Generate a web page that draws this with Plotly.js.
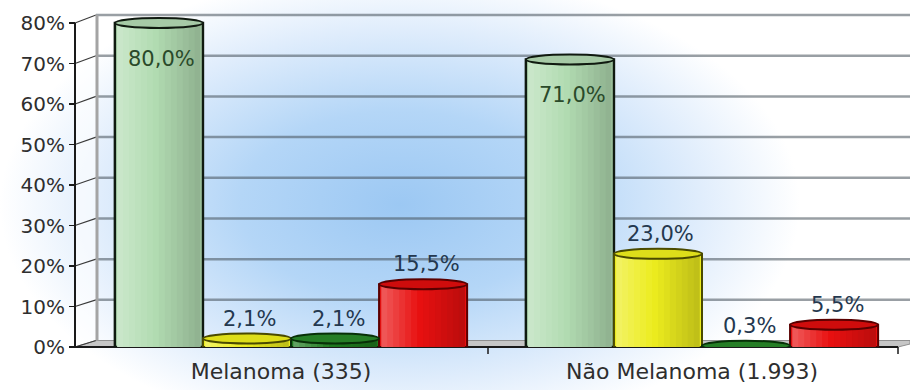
<!DOCTYPE html>
<html><head><meta charset="utf-8">
<script src="https://cdn.plot.ly/plotly-3.0.1.min.js"></script>
<style>html,body{margin:0;padding:0;background:#fff}#chart{width:910px;height:390px}</style>
</head><body><div id="chart"></div>
<script>
// ---- data ----
const categories = ['Melanoma (335)', 'Não Melanoma (1.993)'];
const seriesLightGreen = [80.0, 71.0];
const seriesYellow = [2.1, 23.0];
const seriesDarkGreen = [2.1, 0.3];
const seriesRed = [15.5, 5.5];
const yTickValues = [0, 10, 20, 30, 40, 50, 60, 70, 80];
const yTickLabels = ['0%', '10%', '20%', '30%', '40%', '50%', '60%', '70%', '80%'];

// ---- styles ----
const seriesList = [
  {values: seriesLightGreen, fill: [178, 220, 178], line: '#101a10', top: '#a6caa6', label: '#2a4a2a', lw: 2.5},
  {values: seriesYellow, fill: [236, 236, 30], line: '#4a4a00', top: '#dede1a', label: '#24384f', lw: 2},
  {values: seriesDarkGreen, fill: [30, 122, 30], line: '#083008', top: '#267e26', label: '#24384f', lw: 2},
  {values: seriesRed, fill: [232, 16, 16], line: '#5a0000', top: '#cf0c0c', label: '#24384f', lw: 2}
];
const rgb = c => `rgb(${c.map(Math.round).join(',')})`;
const mix = (c, d, t) => c.map((x, k) => x + (d[k] - x) * t);
const shadeAt = (c, t) => t < 0.45 ? mix(c, [255, 255, 255], 0.32 * (0.45 - t) / 0.45)
                                   : mix(c, [0, 0, 0], 0.2 * (t - 0.45) / 0.55);

const W = 910, H = 390, M = {l: 0, r: 0, t: 15, b: 43};
const plotH = H - M.t - M.b;           // 332
const yMax = 80, unitPx = 324 / yMax;  // 80% sits at 23px
const yTop = plotH / unitPx;
const px2x = p => p / W;
const py2y = p => (H - M.b - p) / plotH;
const frontPx = v => (H - M.b) - v * unitPx;
const backPx = v => 340.5 - v * (340.5 - 15) / yMax;
const axisX = 75, wallX = 96, rightX = 910, floorRightX = 898;

const bargap = 0.143;
const barW = (1 - bargap) / seriesList.length;
const fmt = v => v.toFixed(1).replace('.', ',') + '%';

const traces = seriesList.map(s => ({
  type: 'bar', x: categories, y: s.values,
  marker: {color: rgb(s.fill), line: {color: s.line, width: s.lw}},
  hoverinfo: 'skip', showlegend: false
}));

const shapes = [];
const P = (x, y) => `${px2x(x)},${py2y(y)}`;
// side wall fill
shapes.push({type: 'path', xref: 'paper', yref: 'paper', layer: 'below',
  path: `M${P(axisX, frontPx(0))} L${P(axisX, frontPx(yMax))} L${P(wallX, backPx(yMax))} L${P(wallX, backPx(0))} Z`,
  fillcolor: 'rgba(255,255,255,0.6)', line: {width: 0}});
// floor
shapes.push({type: 'path', xref: 'paper', yref: 'paper', layer: 'below',
  path: `M${P(axisX, frontPx(0))} L${P(wallX, backPx(0))} L${P(rightX, backPx(0))} L${P(rightX, frontPx(0) - 3)} L${P(floorRightX, frontPx(0))} Z`,
  fillcolor: '#c6c6c6', line: {color: '#8f8f8f', width: 1}});
// back wall gridlines + side wall diagonals
yTickValues.forEach(v => {
  if (v > 0) {
    shapes.push({type: 'line', xref: 'paper', yref: 'paper', layer: 'below',
      x0: px2x(wallX), x1: px2x(rightX), y0: py2y(backPx(v)), y1: py2y(backPx(v)),
      line: {color: 'rgba(70,80,90,0.55)', width: 2.5}});
  }
  shapes.push({type: 'line', xref: 'paper', yref: 'paper', layer: 'below',
    x0: px2x(axisX), x1: px2x(wallX), y0: py2y(frontPx(v)), y1: py2y(backPx(v)),
    line: {color: '#3a3a3a', width: 1.2}});
});
// back wall left edge
shapes.push({type: 'line', xref: 'paper', yref: 'paper', layer: 'below',
  x0: px2x(wallX + 1), x1: px2x(wallX + 1), y0: py2y(backPx(0)), y1: py2y(backPx(yMax)),
  line: {color: '#a4a4a4', width: 3}});
// front y axis line
shapes.push({type: 'line', xref: 'paper', yref: 'paper', layer: 'above',
  x0: px2x(axisX), x1: px2x(axisX), y0: py2y(frontPx(0)), y1: py2y(frontPx(yMax)),
  line: {color: '#1a1a1a', width: 2}});
// front floor edge (x axis line) and ticks
shapes.push({type: 'line', xref: 'paper', yref: 'paper', layer: 'below',
  x0: px2x(axisX), x1: px2x(floorRightX), y0: py2y(frontPx(0)), y1: py2y(frontPx(0)),
  line: {color: '#1a1a1a', width: 2}});
[488, floorRightX].forEach(p => {
  shapes.push({type: 'line', xref: 'paper', yref: 'paper', layer: 'below',
    x0: px2x(p), x1: px2x(p), y0: py2y(frontPx(0)), y1: py2y(frontPx(0) + 7),
    line: {color: '#1a1a1a', width: 1.5}});
});

// cylinder shading and ends (computed from the data arrays)
const annotations = [];
const nStripes = 14, insetX = 2.2 / 411;
seriesList.forEach((s, i) => {
  s.values.forEach((v, j) => {
    const xc = j + (i - (seriesList.length - 1) / 2) * barW;
    const x0 = xc - barW / 2, x1 = xc + barW / 2;
    shapes.push({type: 'circle', xref: 'x', yref: 'y', layer: 'below',
      x0, x1, ysizemode: 'pixel', yanchor: 0, y0: -5, y1: 5,
      fillcolor: rgb(shadeAt(s.fill, 0.5)), line: {color: s.line, width: 2}});
    const a = x0 + insetX, b = x1 - insetX, sw = (b - a) / nStripes;
    for (let k = 0; k < nStripes; k++) {
      shapes.push({type: 'rect', xref: 'x', yref: 'y', layer: 'above',
        x0: a + k * sw, x1: Math.min(b, a + (k + 1) * sw + sw * 0.3), y0: 0, y1: v,
        fillcolor: rgb(shadeAt(s.fill, (k + 0.5) / nStripes)), line: {width: 0}});
    }
    shapes.push({type: 'circle', xref: 'x', yref: 'y', layer: 'above',
      x0, x1, ysizemode: 'pixel', yanchor: v, y0: -5, y1: 5,
      fillcolor: s.top, line: {color: s.line, width: 2}});
    const inside = v > 50;
    annotations.push({xref: 'x', yref: 'y', x: xc, y: v, text: fmt(v), showarrow: false,
      xshift: 3, yshift: inside ? -36 : 20, yanchor: 'middle',
      font: {family: 'DejaVu Sans, Verdana, sans-serif', size: 21, color: s.label}});
  });
});

const bgSvg = '<svg xmlns="http://www.w3.org/2000/svg" width="910" height="390" viewBox="0 0 910 390">' +
  '<defs><radialGradient id="g" cx="0.5" cy="0.5" r="0.5">' +
  '<stop offset="0" stop-color="#9cc8f3"/><stop offset="0.4" stop-color="#b4d6f7"/>' +
  '<stop offset="0.75" stop-color="#e0edfc"/><stop offset="1" stop-color="#ffffff"/></radialGradient></defs>' +
  '<rect width="910" height="390" fill="#ffffff"/>' +
  '<rect x="0" y="-30" width="800" height="470" fill="url(#g)"/></svg>';

const layout = {
  width: W, height: H, margin: M,
  paper_bgcolor: '#ffffff', plot_bgcolor: 'rgba(0,0,0,0)',
  barmode: 'group', bargap: bargap, bargroupgap: 0,
  font: {family: 'DejaVu Sans, Verdana, sans-serif', color: '#2a2a2a'},
  xaxis: {type: 'category', domain: [85.5 / W, 907.5 / W], range: [-0.5, 1.5],
    showline: false, ticks: '', showgrid: false, zeroline: false, fixedrange: true,
    tickfont: {size: 22, color: '#2e2e2e'}, ticklabelshift: -10, ticklabelstandoff: 9},
  yaxis: {range: [0, yTop], tickvals: yTickValues, ticktext: yTickLabels,
    anchor: 'free', position: px2x(axisX), showline: false,
    ticks: 'outside', ticklen: 6, tickwidth: 1.5, tickcolor: '#1a1a1a',
    showgrid: false, zeroline: false, fixedrange: true,
    tickfont: {size: 20, color: '#2e2e2e'}},
  shapes: shapes,
  annotations: annotations,
  images: [{source: 'data:image/svg+xml;charset=utf-8,' + encodeURIComponent(bgSvg),
    xref: 'paper', yref: 'paper', x: 0, y: py2y(0), sizex: 1, sizey: H / plotH,
    xanchor: 'left', yanchor: 'top', sizing: 'stretch', layer: 'below'}]
};

Plotly.newPlot('chart', traces, layout, {displayModeBar: false, staticPlot: true});
</script></body></html>
